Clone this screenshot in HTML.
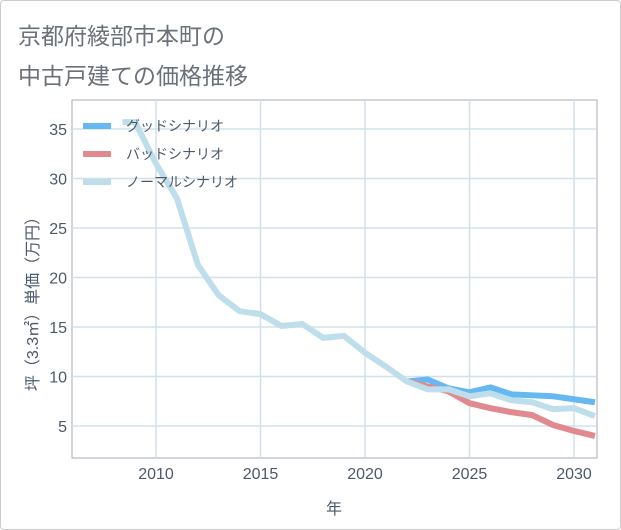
<!DOCTYPE html>
<html><head><meta charset="utf-8"><style>
body{margin:0;background:#fff;}
#wrap{position:relative;width:619px;height:528px;border:1px solid #ccc;border-radius:4px;background:#fff;overflow:hidden;}
.t{position:absolute;left:17px;font-family:"Liberation Sans","Noto Sans CJK JP",sans-serif;font-size:23px;color:#6a7178;}
</style></head><body>
<div id="wrap">
<div class="t" style="top:16px">京都府綾部市本町の</div>
<div class="t" style="top:56px">中古戸建ての価格推移</div>
<svg id="svg" width="621" height="530" style="position:absolute;left:-1px;top:-1px" font-family="Liberation Sans, Noto Sans CJK JP, sans-serif"></svg>
</div>
<script>
const years=[2010,2015,2020,2025,2030];
const yTicks=[5,10,15,20,25,30,35];
const normalX=[2008.4,2009,2010,2011,2012,2013,2014,2015,2016,2017,2018,2019,2020,2021,2022,2023,2024,2025,2026,2027,2028,2029,2030,2031];
const normalY=[35.7,35.7,31.5,28,21.3,18.2,16.6,16.3,15.1,15.3,13.9,14.1,12.4,11,9.5,8.7,8.7,8.0,8.3,7.6,7.4,6.7,6.8,6.0];
const futX=[2022,2023,2024,2025,2026,2027,2028,2029,2030,2031];
const goodY=[9.5,9.7,8.8,8.4,8.9,8.2,8.1,8.0,7.7,7.4];
const badY=[9.5,9.0,8.5,7.3,6.8,6.4,6.1,5.1,4.5,4.0];
const L=72,R=597,T=100,B=458;
const x=v=>156+(v-2010)*20.9;
const y=v=>426-(v-5)*9.9;
const svg=document.getElementById('svg');
const NS='http://www.w3.org/2000/svg';
function mk(t,a){const e=document.createElementNS(NS,t);for(const k in a)e.setAttribute(k,a[k]);svg.appendChild(e);return e;}
let e;
e=mk('rect',{x:L,y:T,width:R-L,height:B-T,fill:'#fff',stroke:'#aab',"stroke-width":1});


yTicks.forEach(v=>{
 e=mk('line',{x1:L,x2:R,y1:y(v),y2:y(v),stroke:'#d3e0ea',"stroke-width":1.5});
 
 
 e=mk('text',{x:L-5,y:y(v)+6,"text-anchor":'end',"font-size":16,fill:'#4a5a6a'});e.textContent=v;
 
 
});
years.forEach(v=>{
 e=mk('line',{x1:x(v),x2:x(v),y1:T,y2:B,stroke:'#d3e0ea',"stroke-width":1.5});
 
 
 e=mk('text',{x:x(v),y:B+21,"text-anchor":'middle',"font-size":16,fill:'#4a5a6a'});e.textContent=v;
 
 
});
function line(xs,ys,c,n){
 e=mk('polyline',{points:xs.map((v,i)=>x(v)+','+y(ys[i])).join(' '),fill:'none',stroke:c,"stroke-width":6,"stroke-linejoin":'round'});
 
 
}
line(futX,goodY,'#66b8f0','good-scenario-line');
line(futX,badY,'#e08a90','bad-scenario-line');
line(normalX,normalY,'#bfdeeb','normal-scenario-line');
const leg=[['グッドシナリオ','#66b8f0'],['バッドシナリオ','#e08a90'],['ノーマルシナリオ','#bfdeeb']];
leg.forEach((l,i)=>{
 const yy=126+i*28;
 e=mk('line',{x1:83,x2:111,y1:yy,y2:yy,stroke:l[1],"stroke-width":6});
 
 
 e=mk('text',{x:126,y:yy+5,"font-size":14,fill:'#4a5a6a'});e.textContent=l[0];
 
 
});
e=mk('text',{x:334,y:514,"text-anchor":'middle',"font-size":16,fill:'#4a5a6a'});e.textContent='年';


e=mk('text',{x:0,y:0,transform:'translate(38,300) rotate(-90)',"text-anchor":'middle',"font-size":16,fill:'#4a5a6a'});e.textContent='坪（3.3㎡）単価（万円）';


</script>
</body></html>
